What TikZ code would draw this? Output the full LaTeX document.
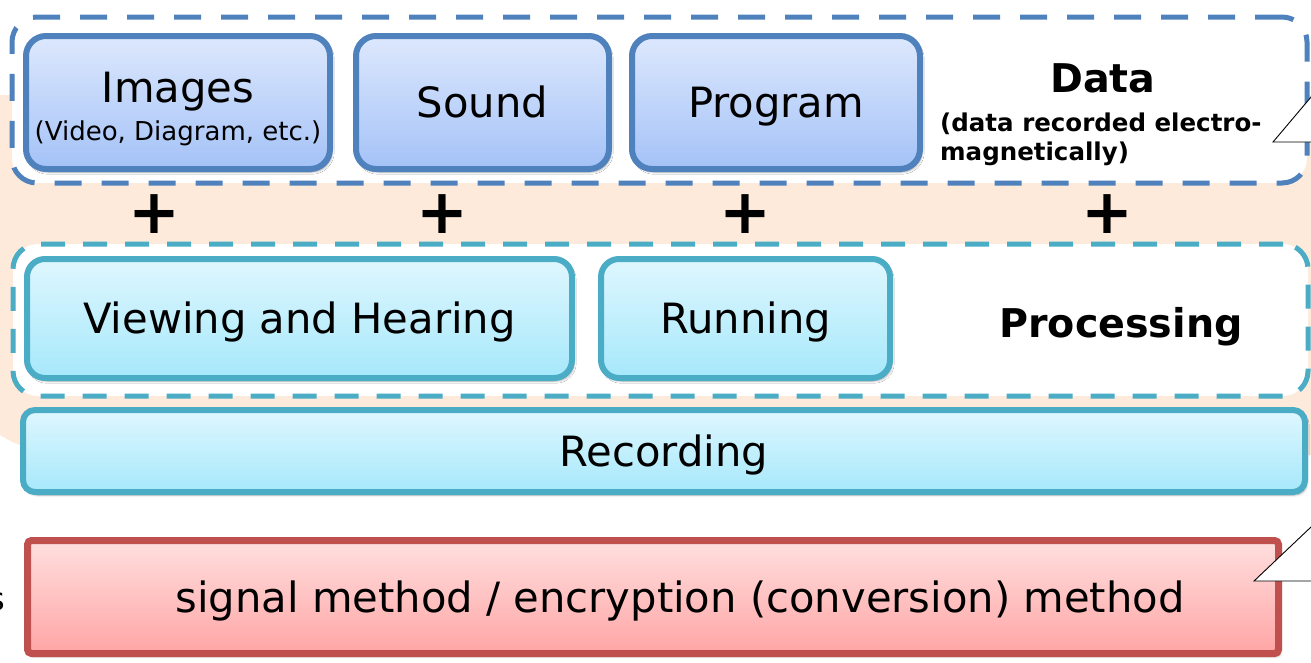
\documentclass[tikz,border=0pt]{standalone}
\usepackage{fontspec}
\setmainfont{DejaVu Sans}
\usetikzlibrary{shadows.blur}

\definecolor{dataline}{HTML}{4F81BD}
\definecolor{procline}{HTML}{4BACC6}
\definecolor{blueTop}{HTML}{DDE8FD}
\definecolor{blueBot}{HTML}{A4C2F7}
\definecolor{cyanTop}{HTML}{DFF7FE}
\definecolor{cyanBot}{HTML}{A6E8FB}
\definecolor{redline}{HTML}{C0504D}
\definecolor{redTop}{HTML}{FFDFDF}
\definecolor{redBot}{HTML}{FFA5A5}
\definecolor{peach}{HTML}{FDEADA}

\newcommand{\mainsize}{\fontsize{41.7}{50}\selectfont}

\begin{document}
\begin{tikzpicture}[x=1pt,y=-1pt,
  groupbox/.style={rectangle, line width=5pt, fill=white, rounded corners=25pt, inner sep=0pt},
  softshadow/.style={blur shadow={shadow xshift=2pt, shadow yshift=-3pt, shadow blur steps=6, shadow opacity=35}},
  databox/.style={rectangle, rounded corners=20pt, draw=dataline, line width=6pt,
    top color=blueTop, bottom color=blueBot, inner sep=0pt, softshadow,
    font=\mainsize, text height=30.4pt, text depth=0pt},
  procbox/.style={rectangle, rounded corners=18pt, draw=procline, line width=6pt,
    top color=cyanTop, bottom color=cyanBot, inner sep=0pt, softshadow,
    font=\mainsize, text height=30.4pt, text depth=0pt},
  methodbox/.style={rectangle, rounded corners=4pt, draw=redline, line width=7pt,
    top color=redTop, bottom color=redBot, inner sep=0pt, softshadow},
  lbl/.style={font=\mainsize, inner sep=0pt, anchor=base},
  heading/.style={font=\fontsize{39.6}{47}\selectfont\bfseries, inner sep=0pt, anchor=base},
  note/.style={font=\fontsize{24.5}{29}\selectfont\bfseries, inner sep=0pt, anchor=base west},
  plus/.style={font=\fontsize{62}{62}\selectfont\bfseries, inner sep=0pt},
  callout/.style={draw=black, line width=0.9pt, fill=white}
]
\useasboundingbox (0,0) rectangle (1311,662);

% light background band behind the data and processing rows
\fill[peach] (-5,95) -- (1320,95) -- (1320,455) -- (80,455)
  .. controls (40,455) and (10,444) .. (-5,431) -- cycle;

% dashed group frames
\node[groupbox, draw=dataline, dash pattern=on 27pt off 20pt,
  minimum width=1295pt, minimum height=166pt] (datagrp) at (659.5,100) {};
\node[groupbox, draw=procline, dash pattern=on 24pt off 18pt,
  minimum width=1295pt, minimum height=152pt] (procgrp) at (660.5,320) {};

% data row
\node[databox, minimum width=304pt, minimum height=133pt] (images) at (178,102.5) {};
\node[lbl] (imagesT) at (178,102) {Images};
\node[lbl, font=\fontsize{26}{31}\selectfont] (imagesS) at (178,140) {(Video, Diagram, etc.)};
\node[databox, minimum width=253pt, minimum height=133pt] (sound) at (482.5,102.5) {Sound};
\node[databox, minimum width=288pt, minimum height=133pt] (program) at (776,102.5) {Program};

\node[heading] (dataT) at (1103,92) {Data};
\node[note] (dataN1) at (940,131) {(data recorded electro-};
\node[note] (dataN2) at (940,160) {magnetically)};

% plus signs between the rows
\node[plus] (p1) at (154,214) {+};
\node[plus] (p2) at (442,214) {+};
\node[plus] (p3) at (745,214) {+};
\node[plus] (p4) at (1107,214) {+};

% processing row
\node[procbox, minimum width=545pt, minimum height=119pt] (view) at (299.5,318.5) {Viewing and Hearing};
\node[procbox, minimum width=289pt, minimum height=119pt] (run) at (745.5,318.5) {Running};
\node[heading] (procT) at (1121,337) {Processing};

% recording bar
\node[procbox, rounded corners=12pt, minimum width=1282pt, minimum height=82pt] (rec) at (664,451) {Recording};

% method bar
\node[methodbox, minimum width=1251pt, minimum height=113pt] (method) at (653,597) {};
\node[lbl] (methodT) at (680,612) {signal method / encryption (conversion) method};

% tail of a label running in from the left
\node[lbl, font=\fontsize{32}{38}\selectfont, anchor=base east] (leftS) at (5.5,610) {s};

% callout pointers coming in from the right
\coordinate (tipA) at (1273,142);
\coordinate (tipB) at (1254,581);
\draw[callout] (1315,92.3) -- (tipA) -- (1315,142);
\draw[callout] (1315,523.2) -- (tipB) -- (1315,581);
\end{tikzpicture}
\end{document}
